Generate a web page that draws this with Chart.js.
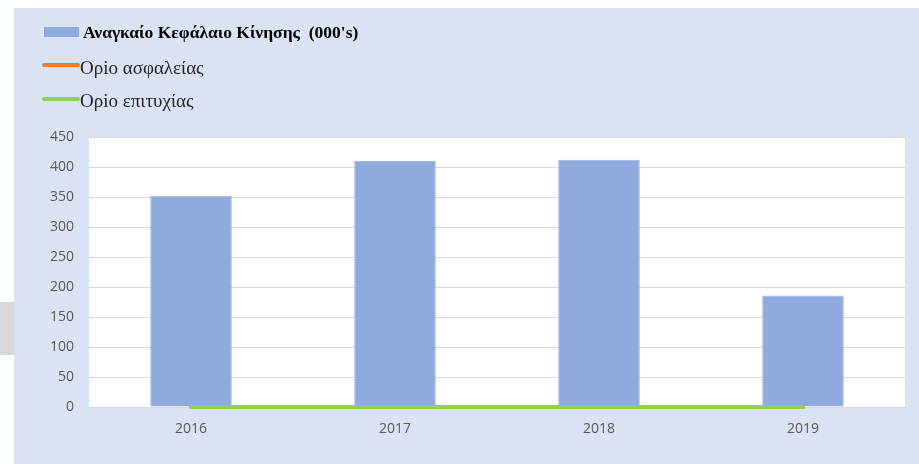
<!DOCTYPE html>
<html>
<head>
<meta charset="utf-8">
<script src="https://cdn.jsdelivr.net/npm/chart.js@4"></script>
<style>
  html, body { margin: 0; padding: 0; background: #ffffff; width: 919px; height: 464px; overflow: hidden; }
  #side { position: absolute; left: 0; top: 302px; width: 14px; height: 53px; background: #d9d9d9; }
  #wrap { position: absolute; left: 14px; top: 8px; width: 905px; height: 456px; background: #dae3f3; }
  #chart { position: absolute; left: 0; top: 0; }
  .leg { position: absolute; white-space: pre; font-family: "Liberation Serif", serif; color: #262626; }
  .sw { position: absolute; }
  .tx { position: absolute; line-height: 20px; }
</style>
</head>
<body>
<div id="side"></div>
<div id="wrap">
  <canvas id="chart" width="905" height="456"></canvas>
  <div id="legend"></div>
</div>
<script>
const categories = ['2016', '2017', '2018', '2019'];
const workingCapital = [352, 410, 412, 186];
const safetyLimit = [0, 0, 0, 0];
const successLimit = [0, 0, 0, 0];
const yMin = 0;
const yMax = 450;
const yStep = 50;

const seriesLabels = ["Αναγκαίο Κεφάλαιο Κίνησης  (000's)", 'Ορio ασφαλείας', 'Ορio επιτυχίας'];
const seriesColors = ['#8faadc', '#ed7d31', '#92d050'];

const plotBg = {
  id: 'plotBg',
  beforeDraw(chart) {
    const a = chart.chartArea, c = chart.ctx;
    c.save();
    c.fillStyle = '#ffffff';
    c.fillRect(a.left, a.top, a.right - a.left, a.bottom - a.top);
    c.restore();
  }
};

const chart = new Chart(document.getElementById('chart'), {
  type: 'bar',
  data: {
    labels: categories,
    datasets: [
      { type: 'bar', label: seriesLabels[0], data: workingCapital, backgroundColor: seriesColors[0],
        borderColor: '#9fb8e4', borderWidth: 1, barPercentage: 0.4, categoryPercentage: 1, order: 3 },
      { type: 'line', label: seriesLabels[1], data: safetyLimit, borderColor: seriesColors[1], backgroundColor: seriesColors[1],
        borderWidth: 4, pointRadius: 0, borderCapStyle: 'round', clip: false, order: 2 },
      { type: 'line', label: seriesLabels[2], data: successLimit, borderColor: seriesColors[2], backgroundColor: seriesColors[2],
        borderWidth: 4, pointRadius: 0, borderCapStyle: 'round', clip: false, order: 1 }
    ]
  },
  options: {
    responsive: false,
    animation: false,
    layout: { padding: { left: 0, right: 14, top: 129, bottom: 0 } },
    plugins: { legend: { display: false }, tooltip: { enabled: false } },
    scales: {
      x: {
        grid: { display: false, drawTicks: false },
        border: { display: true, color: '#d9d9d9', width: 1 },
        ticks: { color: '#595959', font: { family: 'Open Sans', size: 14 }, padding: 14 },
        afterFit(s) { s.height = 57; }
      },
      y: {
        min: yMin, max: yMax,
        grid: { color: '#d9d9d9', lineWidth: 1, drawTicks: false },
        border: { display: false },
        ticks: { stepSize: yStep, color: '#595959', font: { family: 'Open Sans', size: 14 }, padding: 15 },
        afterFit(s) { s.width = 75; }
      }
    }
  },
  plugins: [plotBg]
});

// HTML legend built from the chart's datasets
const legendPos = [
  { sx: 30, sy: 19, sw: 35, sh: 10, tx: 69, ty: 14, bold: true, size: 17.5 },
  { sx: 28, sy: 55, sw: 38, sh: 4, tx: 66, ty: 50, bold: false, size: 19 },
  { sx: 28, sy: 89, sw: 38, sh: 4, tx: 66, ty: 83, bold: false, size: 19 }
];
const legendEl = document.getElementById('legend');
chart.data.datasets.forEach((ds, i) => {
  const p = legendPos[i];
  const sw = document.createElement('div');
  sw.className = 'sw';
  sw.style.left = p.sx + 'px'; sw.style.top = p.sy + 'px';
  sw.style.width = p.sw + 'px'; sw.style.height = p.sh + 'px';
  sw.style.background = ds.backgroundColor;
  if (ds.type === 'line') sw.style.borderRadius = '2px';
  legendEl.appendChild(sw);
  const tx = document.createElement('div');
  tx.className = 'leg tx';
  tx.style.left = p.tx + 'px'; tx.style.top = p.ty + 'px';
  tx.style.fontSize = p.size + 'px';
  tx.style.fontWeight = p.bold ? 'bold' : 'normal';
  if (p.bold) tx.style.color = '#000000';
  tx.textContent = ds.label;
  legendEl.appendChild(tx);
});
</script>
</body>
</html>
